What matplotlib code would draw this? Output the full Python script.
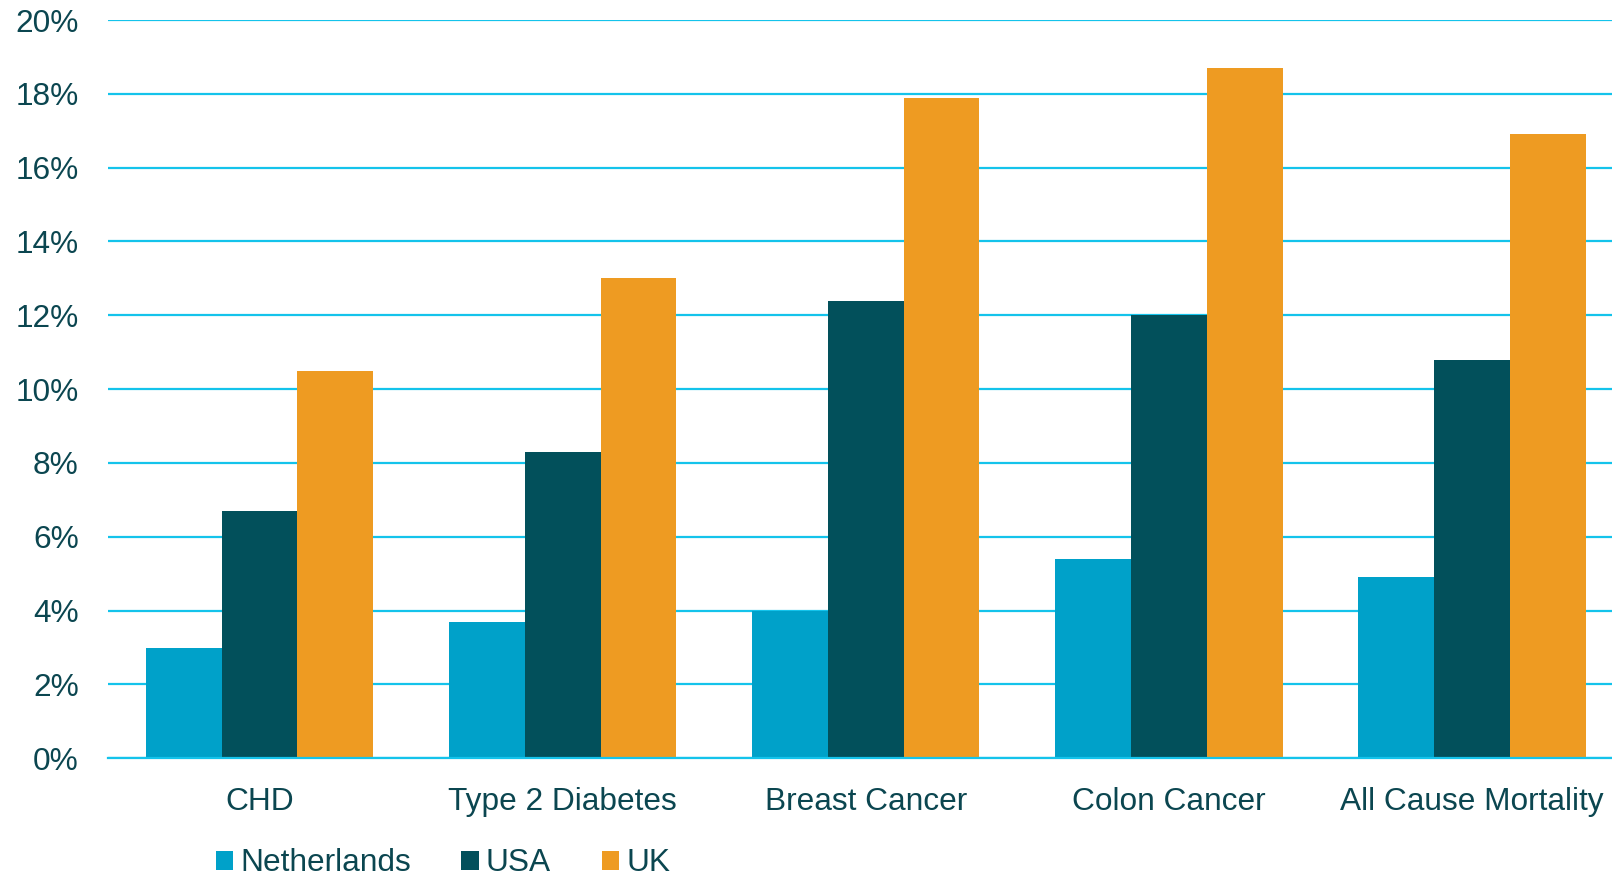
import matplotlib
matplotlib.use("Agg")
import matplotlib.pyplot as plt
from matplotlib.patches import Patch
import numpy as np

categories = ["CHD", "Type 2 Diabetes", "Breast Cancer", "Colon Cancer", "All Cause Mortality"]
series_names = ["Netherlands", "USA", "UK"]
netherlands = [3.0, 3.7, 4.0, 5.4, 4.9]
usa = [6.7, 8.3, 12.4, 12.0, 10.8]
uk = [10.5, 13.0, 17.9, 18.7, 16.9]
y_ticks = [0, 2, 4, 6, 8, 10, 12, 14, 16, 18, 20]

colors = ["#00A1C9", "#02505B", "#EE9B22"]
text_color = "#0B4650"
grid_color = "#14C3EB"

plt.rcParams["font.family"] = ["Liberation Sans", "DejaVu Sans"]

W, H = 1612, 876
fs = 22.8
fig = plt.figure(figsize=(W / 100, H / 100), dpi=100)
ax = fig.add_axes([108 / W, 1 - 758.3 / H, 1 - 108 / W, (758.3 - 20) / H])

x = np.arange(len(categories))
bw = 0.25
for i, (vals, c) in enumerate(zip([netherlands, usa, uk], colors)):
    ax.bar(x + (i - 1) * bw, vals, width=bw, color=c, zorder=3, linewidth=0)

ax.set_xlim(-0.5, 4.462)
ax.set_ylim(0, 20)
ax.set_yticks(y_ticks)
ax.set_yticklabels([f"{v}%" for v in y_ticks])
ax.set_xticks(x)
ax.set_xticklabels(categories)

ax.grid(axis="y", color=grid_color, linewidth=1.6, zorder=0)
for s in ["top", "right", "left"]:
    ax.spines[s].set_visible(False)
ax.spines["bottom"].set_color(grid_color)
ax.spines["bottom"].set_linewidth(1.6)
ax.spines["bottom"].set_zorder(4)

ax.tick_params(axis="both", length=0, labelsize=fs, colors=text_color)
ax.tick_params(axis="y", pad=21)
ax.tick_params(axis="x", pad=21)

handles = [Patch(facecolor=c, edgecolor="none") for c in colors]
fig.legend(handles, series_names, loc="lower left", bbox_to_anchor=(203 / W, -15 / H),
           ncol=3, frameon=False, fontsize=fs, labelcolor=text_color,
           handlelength=0.55, handleheight=0.55, handletextpad=0.22, columnspacing=1.6,
           borderaxespad=0)

fig.savefig("out.png", dpi=100, facecolor="white")
